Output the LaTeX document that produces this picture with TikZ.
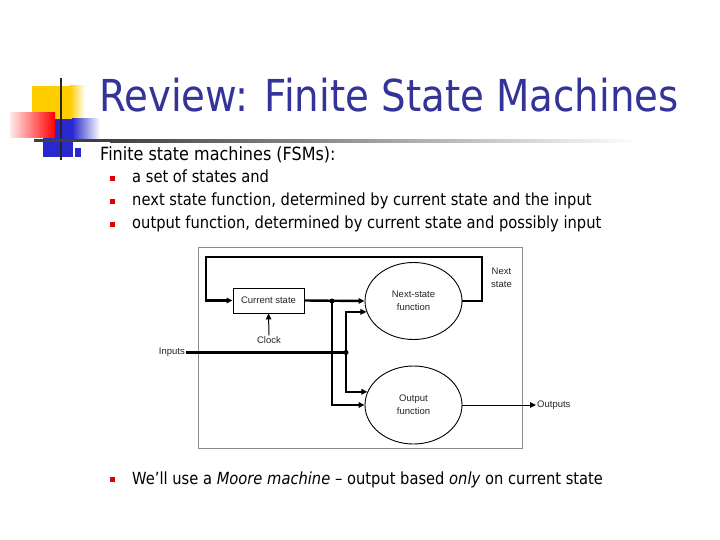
\documentclass[tikz,border=0pt]{standalone}
\usepackage{fontspec}
\setmainfont[FakeStretch=0.88]{DejaVu Sans}
\newfontfamily\diagfont{Liberation Sans}
\usetikzlibrary{arrows.meta,shapes.geometric}
\definecolor{titleblue}{RGB}{51,51,153}
\definecolor{bulletred}{RGB}{221,0,0}
\definecolor{logoyellow}{RGB}{255,204,0}
\definecolor{logoblue}{RGB}{40,40,205}
\tikzset{
  thickline/.style={line width=2.4pt},
  thinline/.style={line width=1pt},
  tip/.style={-{Triangle[length=6pt,width=5.5pt]}},
  lbl/.style={font=\diagfont\fontsize{9.5}{13}\selectfont, text=black!85, inner sep=1pt, align=center},
  fsmbox/.style={draw, line width=0.9pt, minimum width=71pt, minimum height=25pt, inner sep=0pt},
  fsmell/.style={draw, ellipse, line width=0.9pt, minimum width=97pt, minimum height=77pt, inner sep=0pt},
  jdot/.style={circle, fill=black, inner sep=0pt, minimum size=5pt},
  bodytext/.style={anchor=base west, inner sep=0pt, font=\fontsize{16.7}{19}\selectfont},
  bul/.style={fill=bulletred, minimum size=5pt, inner sep=0pt},
}
\begin{document}
\begin{tikzpicture}[x=1pt,y=-1pt]
\useasboundingbox (0,0) rectangle (720,540);
\fill[white] (0,0) rectangle (720,540);
% logo
\fill[logoyellow] (32,86) rectangle (70,119);
\shade[left color=logoyellow, right color=white] (70,86) rectangle (85,119);
\fill[logoblue] (43,119) rectangle (72,157);
\shade[left color=logoblue, right color=white] (72,119) rectangle (100,142);
\fill[logoblue] (72,142) rectangle (73,157);
\fill[logoblue] (75,148) rectangle (81,157);
\shade[left color=red!8, right color=red] (10,113) rectangle (55,138);
\draw[black!85, line width=2pt] (61,78) -- (61,160);
\fill[black!75] (34,139.5) rectangle (110,142.5);
\shade[left color=black!75, right color=white] (110,139.5) rectangle (640,142.5);
% title
\node[anchor=base west, inner sep=0pt, text=titleblue, font=\fontsize{44}{50}\selectfont] (title) at (99,112) {Review: Finite State Machines};
% body
\node[bodytext, font=\fontsize{18.2}{21}\selectfont] (intro) at (100,161) {Finite state machines (FSMs):};
\node[bul] (b1) at (112.5,178.5) {};
\node[bodytext] (t1) at (132,183) {a set of states and};
\node[bul] (b2) at (112.5,201.5) {};
\node[bodytext] (t2) at (132,206) {next state function, determined by current state and the input};
\node[bul] (b3) at (112.5,224.5) {};
\node[bodytext] (t3) at (132,229) {output function, determined by current state and possibly input};
\node[bul] (b4) at (112.5,479.5) {};
\node[bodytext] (t4) at (132,484) {We’ll use a \textit{Moore machine} – output based \textit{only} on current state};
% diagram frame
\node[draw=black!45, line width=0.8pt, minimum width=324pt, minimum height=201pt, inner sep=0pt] (frame) at (360,347.5) {};
% nodes
\node[fsmbox, lbl, inner sep=0pt] (cs) at (268.5,300.5) {Current state};
\node[fsmell, lbl, inner sep=0pt] (ns) at (413.5,301) {Next-state\\function};
\node[fsmell, lbl, inner sep=0pt, minimum height=78pt] (of) at (413.5,405) {Output\\function};
\node[lbl] (clock) at (269,340) {Clock};
\node[lbl, anchor=east] (inputs) at (186,352.5) {Inputs};
\node[lbl, anchor=west] (outputs) at (536,405) {Outputs};
\node[lbl, anchor=west] (nextlbl) at (490,278) {Next\\state};
\coordinate (c1) at (482,257);
\coordinate (c2) at (206,257);
\node[jdot] (j1) at (332,301) {};
\node[jdot] (j2) at (346,352.5) {};
% connectors
\draw[thickline, tip] (ns.east) -| (c1) -- (c2) |- (cs.west);
\draw[thickline, tip] (cs.east) -- (ns.west);
\draw[thickline, tip] (j1.center) |- (of.west);
\draw[thickline] (inputs.east) -- (j2.center);
\draw[thickline, tip] (j2.center) |- (ns.193);
\draw[thickline, tip] (j2.center) |- (of.164);
\draw[thinline, tip] (clock.north) -- (cs.south);
\draw[thinline, tip] (of.east) -- (outputs.west);
\end{tikzpicture}
\end{document}
